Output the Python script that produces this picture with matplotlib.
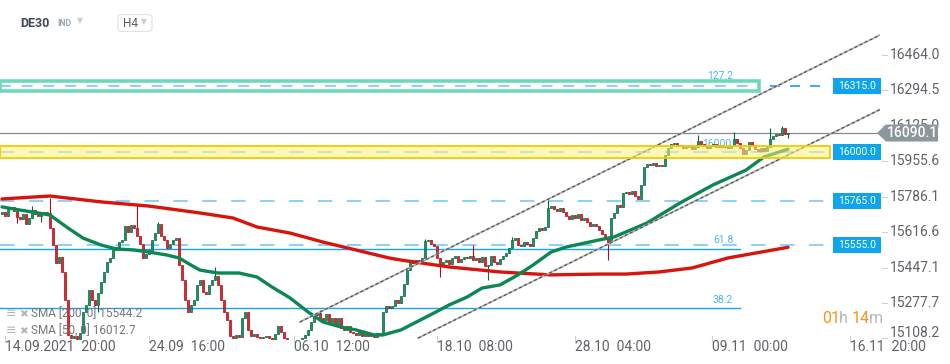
import numpy as np
import matplotlib.pyplot as plt
from matplotlib.patches import Rectangle, Polygon, FancyBboxPatch

plt.rcParams['font.family'] = ['Roboto', 'DejaVu Sans']

# H4 closes, one per candle, first candle has index -1 (14.09 16:00)
first_open = 15705
closes = [
    15713, 15694, 15727, 15737, 15717, 15689, 15679, 15703, 15655, 15684, 15722, 15703, 15694, 15708, 15713, 15710,
    15636, 15555, 15469, 15498, 15426, 15292, 15125, 15110, 15120, 15106,
    15134, 15235, 15268, 15340, 15292, 15268, 15325, 15378, 15426, 15474,
    15493, 15531, 15545, 15569, 15579, 15646, 15617, 15650, 15636, 15598,
    15560, 15493, 15512, 15531, 15579, 15612, 15655, 15598, 15579, 15541,
    15560, 15579, 15588, 15459, 15388, 15292, 15235, 15268, 15292, 15364,
    15388, 15330, 15321, 15364, 15388, 15407, 15364, 15292, 15235, 15197,
    15120, 15110, 15125, 15115, 15206, 15235, 15149, 15120, 15130, 15115,
    15110, 15115, 15120, 15110, 15101, 15130, 15168, 15139, 15110, 15091,
    15082, 15091, 15077, 15101, 15110, 15125, 15149, 15187, 15220, 15230,
    15206, 15197, 15225, 15187, 15206, 15173, 15206, 15158, 15149, 15168,
    15139, 15134, 15125, 15139, 15120, 15134, 15120, 15130, 15115, 15134,
    15125, 15235, 15263, 15254, 15263, 15292, 15278, 15311, 15369, 15435,
    15474, 15469, 15483, 15474, 15493, 15574, 15579, 15560, 15550, 15493,
    15455, 15474, 15483, 15464, 15493, 15502, 15474, 15488, 15498, 15493,
    15502, 15483, 15493, 15474, 15498, 15455, 15459, 15502, 15474, 15464,
    15488, 15502, 15517, 15541, 15579, 15588, 15555, 15550, 15569, 15560,
    15550, 15588, 15622, 15636, 15627, 15641, 15732, 15741, 15727, 15717,
    15732, 15713, 15694, 15679, 15698, 15684, 15703, 15674, 15684, 15665,
    15646, 15655, 15646, 15627, 15607, 15593, 15569, 15684, 15708, 15746,
    15737, 15803, 15808, 15799, 15813, 15789, 15775, 15842, 15928, 15942,
    15937, 15947, 15932, 15937, 15932, 15985, 16019, 16038, 16042, 16028,
    16033, 16019, 16023, 16028, 16014, 16023, 16052, 16038, 16028, 16019,
    16028, 16038, 16023, 16033, 16023, 16028, 16019, 16028, 16062, 16042,
    16019, 15990, 16009, 16047, 16033, 16014, 16004, 16019, 16004, 16023,
    16062, 16076, 16085, 16081, 16114, 16085, 16090.1,
]
# visible wicks (candle index -> price)
wick_high = {9: 15741, 15: 15780, 44: 15746, 51: 15665, 70: 15450, 105: 15244, 140: 15584,
             156: 15555, 169: 15593, 181: 15770, 231: 16081, 243: 16095, 255: 16114, 259: 16124}
wick_low = {4: 15660, 12: 15665, 31: 15235, 145: 15402, 161: 15388, 201: 15483, 261: 16066}

# moving averages
sma200_idx = [-1, 15, 32, 48, 65, 76, 84, 95, 106, 117, 128, 132, 148, 165, 182, 198, 207, 218, 229, 241, 252, 261]
sma200_val = [15775, 15789, 15761, 15741, 15708, 15684, 15641, 15612, 15569, 15531, 15493, 15483, 15450,
              15426, 15412, 15416, 15416, 15426, 15445, 15493, 15521, 15544]
sma50_idx = [-1, 5, 9, 15, 21, 26, 32, 37, 43, 48, 54, 58, 62, 65, 71, 78, 84, 89, 95, 101, 106, 112, 117,
             123, 126, 132, 143, 148, 154, 159, 165, 171, 176, 182, 187, 198, 203, 214, 225, 236, 247, 253, 261]
sma50_val = [15737, 15722, 15713, 15698, 15636, 15588, 15555, 15536, 15531, 15521, 15507, 15493, 15459, 15435,
             15421, 15421, 15402, 15354, 15302, 15235, 15187, 15163, 15149, 15125, 15125, 15149, 15230, 15268,
             15306, 15349, 15364, 15412, 15459, 15521, 15545, 15579, 15593, 15660, 15756, 15842, 15913, 15976, 16013]

# channel lines (index, price)
channel_upper = [(98.3, 15187), (292, 16561)]
channel_lower = [(137.7, 15110), (292, 16205)]

levels = [16315.0, 16000.0, 15765.0, 15555.0]
last_price = 16090.1
zone = (15971, 16028)
fib_box = (16292, 16340)
fib_lines = {'61.8': 15534, '38.2': 15253}
y_ticks = [16464.0, 16294.5, 16125.0, 15955.6, 15786.1, 15616.6, 15447.1, 15277.7, 15108.2]
x_labels = ['14.09.2021  20:00', '24.09  16:00', '06.10  12:00', '18.10  08:00',
            '28.10  04:00', '09.11  00:00', '16.11  20:00']
x_label_idx = [0, 48, 96.3, 144, 190, 235.7, 281.7]


def kx(px):
    # pixel column -> candle index
    return (px - 5) / 3


def py(ypx):
    # pixel row -> price
    return 16726 - 4.78 * ypx


fig = plt.figure(figsize=(9.5, 3.64), dpi=100)
ax = fig.add_axes([0, 24 / 364, 880 / 950, 340 / 364])
ax.set_xlim(kx(0), kx(880))
ax.set_ylim(py(340), py(0))
ax.axis('off')

# candles
idx = np.arange(-1, len(closes) - 1)
c = np.array(closes, dtype=float)
o = np.concatenate([[first_open], c[:-1]])
hi = np.maximum(o, c)
lo = np.minimum(o, c)
for k, v in wick_high.items():
    hi[k + 1] = max(hi[k + 1], v)
for k, v in wick_low.items():
    lo[k + 1] = min(lo[k + 1], v)
up = c >= o
face = np.where(up, '#1a9463', '#e4242d')
edge = np.where(up, '#0b6540', '#a3121a')
ax.vlines(idx, lo, hi, colors=edge, lw=0.8, zorder=3)
body = np.maximum(np.abs(c - o), 3)
ax.bar(idx, body, bottom=np.minimum(o, c), width=0.8, color=face, edgecolor=edge, linewidth=0.5, zorder=3)

# moving averages
ax.plot(sma200_idx, sma200_val, color='#d8140e', lw=2.4, zorder=4, solid_capstyle='round')
ax.plot(sma50_idx, sma50_val, color='#0b8752', lw=2.4, zorder=4, solid_capstyle='round')

# horizontal levels
ax.plot([kx(0), kx(877)], [last_price] * 2, color='#7f8c92', lw=0.9, zorder=2, clip_on=False)
for lv in levels[1:]:
    ax.plot([kx(0), kx(830)], [lv] * 2, color='#86cdf3', lw=1.3, dashes=(8, 8), zorder=2)
ax.plot([kx(0), kx(758)], [levels[0]] * 2, color='#86cdf3', lw=1.3, dashes=(6, 6), zorder=2)
ax.plot([kx(770), kx(830)], [levels[0]] * 2, color='#1a9fe8', lw=1.2, dashes=(6, 6), zorder=2)
ax.add_patch(Rectangle((kx(0), fib_box[0]), kx(759) - kx(0), fib_box[1] - fib_box[0],
                       fc='none', ec='#6fd8b8', lw=2.6, zorder=2))
for name, lv in fib_lines.items():
    ax.plot([kx(0), kx(740)], [lv] * 2, color='#1aa3e8', lw=1.0, zorder=2)
ax.text(kx(720), py(76.5), '127.2', color='#4db6ee', fontsize=7.5, ha='center', va='center')
ax.text(kx(723.5), py(240.5), '61.8', color='#4db6ee', fontsize=7.5, ha='center', va='center')
ax.text(kx(723), py(300), '38.2', color='#4db6ee', fontsize=7.5, ha='center', va='center')
ax.text(kx(721), py(144), '16000.0', color='#4db6ee', fontsize=7.5, ha='center', va='center', zorder=2)

# yellow zone on top
ax.add_patch(Rectangle((kx(0), zone[0]), kx(830) - kx(0), zone[1] - zone[0],
                       fc='#fff27a', alpha=0.55, ec='none', zorder=6))
ax.add_patch(Rectangle((kx(0), zone[0]), kx(830) - kx(0), zone[1] - zone[0],
                       fc='none', ec='#f3c900', lw=1.3, zorder=6))

# channel
for line in (channel_upper, channel_lower):
    xs, ys = zip(*line)
    ax.plot(xs, ys, color='#b4b4b4', lw=1.3, zorder=5)
    ax.plot(xs, ys, color='#555555', lw=0.9, dashes=(2.5, 2), zorder=5)

# right side level boxes
for lv in levels:
    ax.add_patch(Rectangle((kx(833), lv - 38), kx(881) - kx(833), 76, fc='#0ea5ee', ec='none',
                           zorder=7, clip_on=False))
    ax.text(kx(857), lv, f'{lv:.1f}', color='white', fontsize=7.5, ha='center', va='center',
            zorder=8, clip_on=False)

# y axis labels
for t in y_ticks:
    yt = max(t, py(333))
    ax.plot([kx(882), kx(887)], [t, t], color='#d0d0d0', lw=0.8, clip_on=False)
    ax.text(kx(890), yt, f'{t:.1f}', color='#5f6368', fontsize=10, ha='left', va='center', clip_on=False)

# last price tag
h = 8.5 * 4.78
tag = Polygon([(kx(877), last_price), (kx(886), last_price + h), (kx(938), last_price + h),
               (kx(938), last_price - h), (kx(886), last_price - h)], closed=True,
              fc='#8a979d', ec='none', zorder=9, clip_on=False)
ax.add_patch(tag)
ax.text(kx(912), last_price, f'{last_price:.1f}', color='white', fontsize=10, fontweight='medium',
        ha='center', va='center', zorder=10, clip_on=False)

# x axis labels
for lab, k in zip(x_labels, x_label_idx):
    ax.plot([k, k], [py(336), py(342)], color='#d0d0d0', lw=0.8, clip_on=False)
    ax.text(k, py(347.5), lab, color='#5f6368', fontsize=10, ha='left', va='center', clip_on=False)

# countdown
for txt, xp, col in [('01', 822, '#f7931e'), ('h', 839, '#b8b8b8'), ('14', 852, '#f7931e'), ('m', 869, '#b8b8b8')]:
    ax.text(kx(xp), py(319), txt, color=col, fontsize=11.5, ha='left', va='center', clip_on=False)

# legend
for yy, lab in [(314, 'SMA [200, 0] 15544.2'), (331, 'SMA [50, 0] 16012.7')]:
    ax.text(kx(6), py(yy), '≡', color='#b5b5b5', fontsize=9, ha='left', va='center', zorder=11,
            family='DejaVu Sans')
    ax.text(kx(19), py(yy), '✖', color='#b5b5b5', fontsize=7.5, ha='left', va='center', zorder=11,
            family='DejaVu Sans')
    ax.text(kx(31), py(yy), lab, color='#777777', fontsize=8.5, ha='left', va='center', zorder=11)

# header
fig.text(20 / 950, 1 - 23.5 / 364, 'DE30', color='#3f4a54', fontsize=9, fontweight='bold', va='center')
fig.text(57 / 950, 1 - 24 / 364, 'IND', color='#9ba8b1', fontsize=6.3, fontweight='bold', va='center')
fig.text(77 / 950, 1 - 21 / 364, '▼', color='#cccccc', fontsize=5.5, va='center', family='DejaVu Sans')
fig.patches.append(FancyBboxPatch((118 / 950, 1 - 31.5 / 364), 34 / 950, 17 / 364,
                                  boxstyle='round,pad=0,rounding_size=0.006', fc='white', ec='#e2e2e2',
                                  lw=0.8, transform=fig.transFigure, figure=fig))
fig.text(123 / 950, 1 - 23.5 / 364, 'H4', color='#555b60', fontsize=8.5, va='center')
fig.text(141 / 950, 1 - 22 / 364, '▼', color='#cccccc', fontsize=5.5, va='center', family='DejaVu Sans')

fig.savefig('out.png', dpi=100, facecolor='white')
